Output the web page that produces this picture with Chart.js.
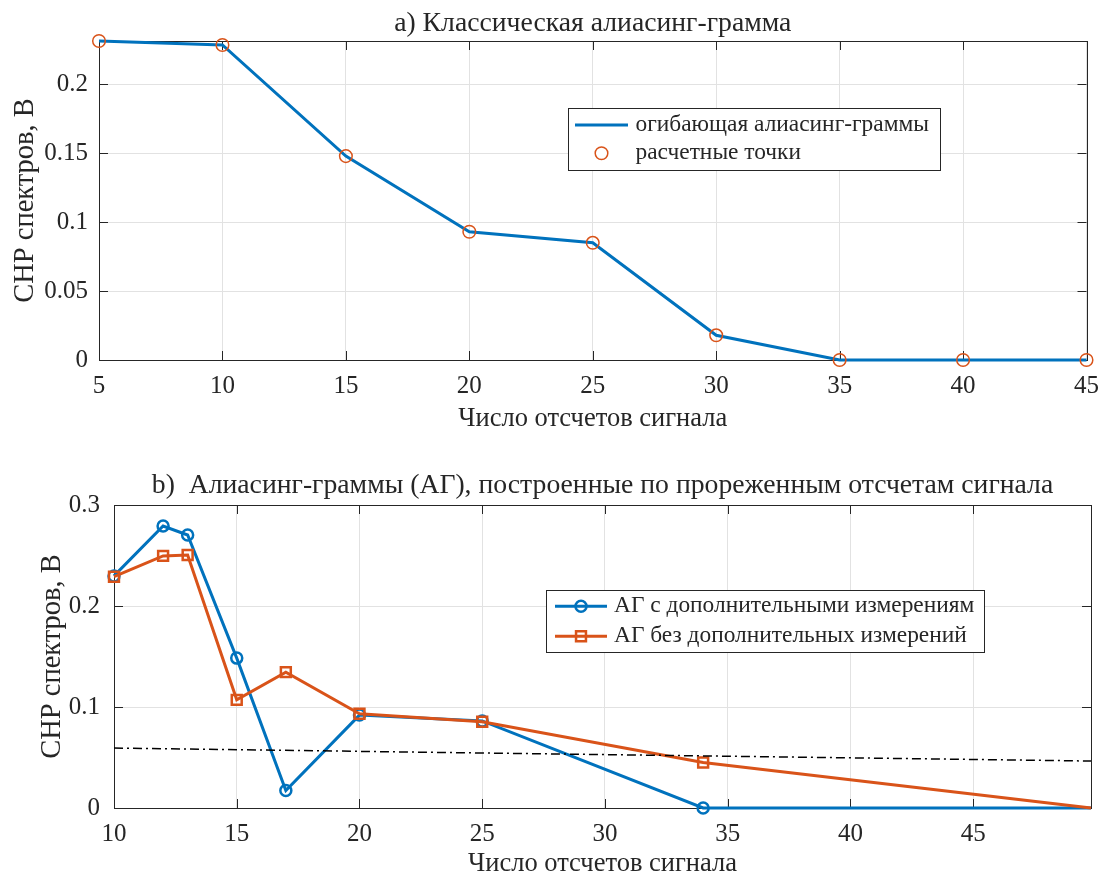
<!DOCTYPE html>
<html>
<head>
<meta charset="utf-8">
<script src="https://cdn.jsdelivr.net/npm/chart.js@4.4.1/dist/chart.umd.min.js"></script>
<style>
  html, body { margin: 0; padding: 0; background: #fff; }
  .panel { position: absolute; left: 0; width: 1110px; height: 440px; }
  #panelA { top: 0; }
  #panelB { top: 440px; }
</style>
</head>
<body>
<div class="panel" id="panelA"><canvas id="chartA"></canvas></div>
<div class="panel" id="panelB"><canvas id="chartB"></canvas></div>
<script>
// a) классическая алиасинг-грамма
const samplesA = [5, 10, 15, 20, 25, 30, 35, 40, 45];
const envelopeA = [0.2314, 0.2285, 0.1479, 0.0930, 0.0850, 0.0179, 0, 0, 0];

// b) алиасинг-граммы по прореженным отсчетам
const samplesB = [10, 12, 13, 15, 17, 20, 25, 34, 49.8];
const withExtra = [0.2298, 0.2792, 0.2703, 0.1484, 0.0174, 0.0920, 0.0862, 0, 0];
const withoutExtra = [0.2290, 0.2496, 0.2505, 0.1071, 0.1345, 0.0933, 0.0854, 0.0451, 0];
const thresholdX = [10, 49.8];
const thresholdY = [0.0593, 0.0465];

const FONT = "'Liberation Serif', 'Times New Roman', serif";
const INK = '#262626';
const GRID = '#e2e2e2';
const BLUE = '#0072BD';
const ORANGE = '#D95319';

const toXY = (xs, ys) => xs.map((x, i) => ({ x, y: ys[i] }));

// рамка и внутренние засечки как в MATLAB
const matlabAxes = {
  id: 'matlabAxes',
  beforeDatasetsDraw(chart) {
    const { ctx, chartArea: a, scales: { x, y } } = chart;
    const len = 9;
    ctx.save();
    ctx.strokeStyle = INK;
    ctx.lineWidth = 1;
    ctx.beginPath();
    x.ticks.forEach(t => {
      const px = Math.round(x.getPixelForValue(t.value)) + 0.5;
      ctx.moveTo(px, a.bottom); ctx.lineTo(px, a.bottom - len);
      ctx.moveTo(px, a.top); ctx.lineTo(px, a.top + len);
    });
    y.ticks.forEach(t => {
      const py = Math.round(y.getPixelForValue(t.value)) + 0.5;
      ctx.moveTo(a.left, py); ctx.lineTo(a.left + len, py);
      ctx.moveTo(a.right, py); ctx.lineTo(a.right - len, py);
    });
    ctx.stroke();
    ctx.strokeRect(Math.round(a.left) + 0.5, Math.round(a.top) + 0.5,
      Math.round(a.width), Math.round(a.height));
    ctx.restore();
  }
};

// заголовок по центру поля осей (а не всего холста)
const axesTitle = {
  id: 'axesTitle',
  afterDraw(chart, args, o) {
    const { ctx, chartArea: a } = chart;
    ctx.save();
    ctx.font = o.size + 'px ' + FONT;
    ctx.fillStyle = INK;
    ctx.textAlign = 'center';
    ctx.textBaseline = 'middle';
    ctx.fillText(o.text, (a.left + a.right) / 2, o.y);
    ctx.restore();
  }
};

// легенда в рамке внутри поля графика
const boxLegend = {
  id: 'boxLegend',
  afterDatasetsDraw(chart, args, o) {
    const { ctx, chartArea: a } = chart;
    const items = chart.data.datasets.filter(d => d.label);
    ctx.save();
    ctx.font = o.size + 'px ' + FONT;
    const textW = Math.max(...items.map(d => ctx.measureText(d.label).width));
    const w = Math.round(o.padL + o.sample + o.gap + textW + o.padR);
    const h = Math.round(o.rowH * items.length + 2 * o.padV);
    const left = Math.round(a.left + o.x * a.width);
    const top = Math.round(a.top + o.y * a.height);
    ctx.fillStyle = '#fff';
    ctx.fillRect(left, top, w, h);
    ctx.strokeStyle = INK;
    ctx.lineWidth = 1;
    ctx.strokeRect(left + 0.5, top + 0.5, w, h);
    items.forEach((d, i) => {
      const cy = top + o.padV + o.rowH * (i + 0.5);
      const sx = left + o.padL;
      if (d.showLine !== false) {
        ctx.strokeStyle = d.borderColor;
        ctx.lineWidth = d.borderWidth;
        ctx.beginPath();
        ctx.moveTo(sx, cy);
        ctx.lineTo(sx + o.sample, cy);
        ctx.stroke();
      }
      const r = Array.isArray(d.pointRadius) ? d.pointRadius[0] : d.pointRadius;
      if (r > 0) {
        ctx.strokeStyle = d.pointBorderColor;
        ctx.fillStyle = 'rgba(0,0,0,0)';
        ctx.lineWidth = d.pointBorderWidth;
        Chart.helpers.drawPoint(ctx, { pointStyle: d.pointStyle, radius: r, borderWidth: d.pointBorderWidth, rotation: 0 },
          sx + o.sample / 2, cy);
      }
      ctx.fillStyle = INK;
      ctx.textBaseline = 'middle';
      ctx.textAlign = 'left';
      ctx.fillText(d.label, sx + o.sample + o.gap, cy);
    });
    ctx.restore();
  }
};

const shortNum = v => String(Number(v.toFixed(4)));

function xAxis(min, max, c) {
  return {
    type: 'linear', min, max,
    ticks: { stepSize: 5, includeBounds: false, padding: c.tickPad, color: INK, font: { family: FONT, size: 25 } },
    grid: { color: GRID, drawTicks: false },
    border: { display: false },
    title: { display: true, text: 'Число отсчетов сигнала', color: INK,
      font: { family: FONT, size: 26.5 }, padding: { top: 0, bottom: c.titlePad } },
    afterFit: s => { s.height = c.height; }
  };
}

function yAxis(min, max, step, c) {
  return {
    type: 'linear', min, max,
    ticks: { stepSize: step, includeBounds: false, padding: c.tickPad, color: INK,
      font: { family: FONT, size: 25 }, callback: shortNum },
    grid: { color: GRID, drawTicks: false },
    border: { display: false },
    title: { display: true, text: 'СНР спектров, В', color: INK,
      font: { family: FONT, size: 28.5 }, padding: { top: c.titlePad, bottom: 0 } },
    afterFit: s => { s.width = c.width; }
  };
}

Chart.defaults.animation = false;
Chart.defaults.events = [];

new Chart(document.getElementById('chartA'), {
  type: 'line',
  data: {
    datasets: [
      {
        label: 'огибающая алиасинг-граммы',
        data: toXY(samplesA, envelopeA),
        borderColor: BLUE, borderWidth: 3, pointRadius: 0,
        tension: 0, clip: false, order: 1
      },
      {
        label: 'расчетные точки',
        data: toXY(samplesA, envelopeA),
        showLine: false, pointStyle: 'circle', pointRadius: 6.3, pointBorderWidth: 1.5,
        pointBorderColor: ORANGE, pointBackgroundColor: 'rgba(0,0,0,0)',
        borderColor: ORANGE, clip: false, order: 0
      }
    ]
  },
  options: {
    responsive: true,
    maintainAspectRatio: false,
    devicePixelRatio: 1,
    layout: { padding: { left: 0, right: 21, top: 41, bottom: 0 } },
    scales: {
      x: xAxis(5, 45, { tickPad: 11, titlePad: 5, height: 80 }),
      y: yAxis(0, 0.2314, 0.05, { tickPad: 11, titlePad: 8.5, width: 99 })
    },
    plugins: {
      legend: { display: false },
      tooltip: { enabled: false },
      axesTitle: { text: 'a) Классическая алиасинг-грамма', y: 23.5, size: 27.7 },
      boxLegend: { x: 0.475, y: 0.211, size: 23.4, rowH: 28.3, padV: 2.8, padL: 7, sample: 53, gap: 7.5, padR: 10.7 }
    }
  },
  plugins: [matlabAxes, boxLegend, axesTitle]
});

new Chart(document.getElementById('chartB'), {
  type: 'line',
  data: {
    datasets: [
      {
        label: 'АГ с дополнительными измерениям',
        data: toXY(samplesB, withExtra),
        borderColor: BLUE, borderWidth: 3,
        pointStyle: 'circle', pointRadius: [5.5, 5.5, 5.5, 5.5, 5.5, 5.5, 5.5, 5.5, 0],
        pointBorderWidth: 2.5, pointBorderColor: BLUE, pointBackgroundColor: 'rgba(0,0,0,0)',
        tension: 0, clip: false, order: 1
      },
      {
        label: 'АГ без дополнительных измерений',
        data: toXY(samplesB, withoutExtra),
        borderColor: ORANGE, borderWidth: 3,
        pointStyle: 'rect', pointRadius: [7, 7, 7, 7, 7, 7, 7, 7, 0],
        pointBorderWidth: 2.5, pointBorderColor: ORANGE, pointBackgroundColor: 'rgba(0,0,0,0)',
        tension: 0, clip: false, order: 0
      },
      {
        data: toXY(thresholdX, thresholdY),
        borderColor: '#000', borderWidth: 1.5, borderDash: [9, 4, 2, 4],
        pointRadius: 0, tension: 0, clip: false, order: -1
      }
    ]
  },
  options: {
    responsive: true,
    maintainAspectRatio: false,
    devicePixelRatio: 1,
    layout: { padding: { left: 0, right: 19, top: 65, bottom: 0 } },
    scales: {
      x: xAxis(10, 49.8, { tickPad: 11, titlePad: 0, height: 72 }),
      y: yAxis(0, 0.3, 0.1, { tickPad: 14, titlePad: 35.5, width: 114 })
    },
    plugins: {
      legend: { display: false },
      tooltip: { enabled: false },
      axesTitle: { text: 'b)  Алиасинг-граммы (АГ), построенные по прореженным отсчетам сигнала', y: 46, size: 27.7 },
      boxLegend: { x: 0.442, y: 0.28, size: 23.4, rowH: 30, padV: 1.2, padL: 9, sample: 52, gap: 7, padR: 10 }
    }
  },
  plugins: [matlabAxes, boxLegend, axesTitle]
});
</script>
</body>
</html>
